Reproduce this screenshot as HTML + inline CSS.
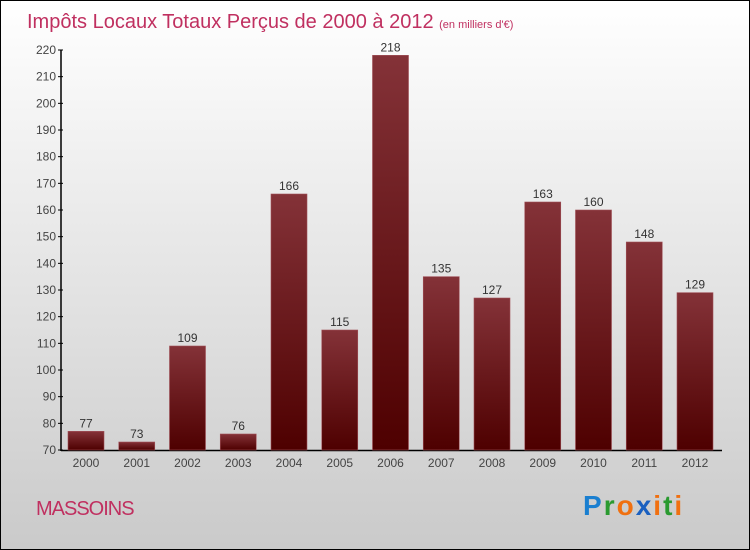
<!DOCTYPE html>
<html><head><meta charset="utf-8"><style>
body{margin:0;}
#wrap{position:relative;width:748px;height:548px;border:1px solid #000;background:linear-gradient(#fff,#cacaca);font-family:"Liberation Sans",sans-serif;overflow:hidden;}
</style></head><body>
<div id="wrap">
<svg width="748" height="548">
<defs><linearGradient id="g" x1="0" y1="0" x2="0" y2="1"><stop offset="0" stop-color="#843238"/><stop offset="1" stop-color="#4e0000"/></linearGradient></defs>
<text x="26" y="27" font-size="20" fill="#c03060">Impôts Locaux Totaux Perçus de 2000 à 2012 <tspan font-size="11" fill="#c03060">(en milliers d'€)</tspan></text>
<g id="axes"></g><g id="bars"></g>
<text x="35" y="514" font-size="20" fill="#c03060" style="letter-spacing:-1px">MASSOINS</text>
<text x="582" y="514" font-size="28" font-weight="bold" style="letter-spacing:2px"><tspan fill="#1a7fd0">P</tspan><tspan fill="#2a9a30">r</tspan><tspan fill="#f07010">o</tspan><tspan fill="#1a60c0">x</tspan><tspan fill="#f07010">i</tspan><tspan fill="#2a9a30">t</tspan><tspan fill="#f07010">i</tspan></text>
</svg></div>
<script>
const years=["2000","2001","2002","2003","2004","2005","2006","2007","2008","2009","2010","2011","2012"];
const values=[77,73,109,76,166,115,218,135,127,163,160,148,129];
const ticks=[70,80,90,100,110,120,130,140,150,160,170,180,190,200,210,220];
const NS="http://www.w3.org/2000/svg";
const y=v=>449-(v-70)*(400/150);
const x=i=>67+i*50.75;
function mk(t,a,p){const e=document.createElementNS(NS,t);for(const k in a)e.setAttribute(k,a[k]);p.appendChild(e);return e;}
const ax=document.getElementById('axes'),bs=document.getElementById('bars');
const yl=mk('line',{x1:60,y1:49,x2:60,y2:450,stroke:'#000','stroke-width':1.5},ax);


const xl=mk('line',{x1:60,y1:449.5,x2:721,y2:449.5,stroke:'#000','stroke-width':1.5},ax);


ticks.forEach(t=>{
 mk('line',{x1:57,x2:62,y1:y(t),y2:y(t),stroke:'#000'},ax);
 const tx=mk('text',{x:55,y:y(t)+4,'text-anchor':'end','font-size':12,fill:'#444'},ax);
 tx.textContent=t;
 
 
});
values.forEach((v,i)=>{
 const r=mk('rect',{x:x(i),y:y(v),width:36,height:449-y(v),fill:'url(#g)',stroke:'#a05058','stroke-width':0.6},bs);
 
 
 const l=mk('text',{x:x(i)+18,y:y(v)-4,'text-anchor':'middle','font-size':12,fill:'#333'},bs);
 l.textContent=v;
 
 
 const c=mk('text',{x:x(i)+18,y:466,'text-anchor':'middle','font-size':12,fill:'#444'},bs);
 c.textContent=years[i];
 
 
});
</script>
</body></html>
